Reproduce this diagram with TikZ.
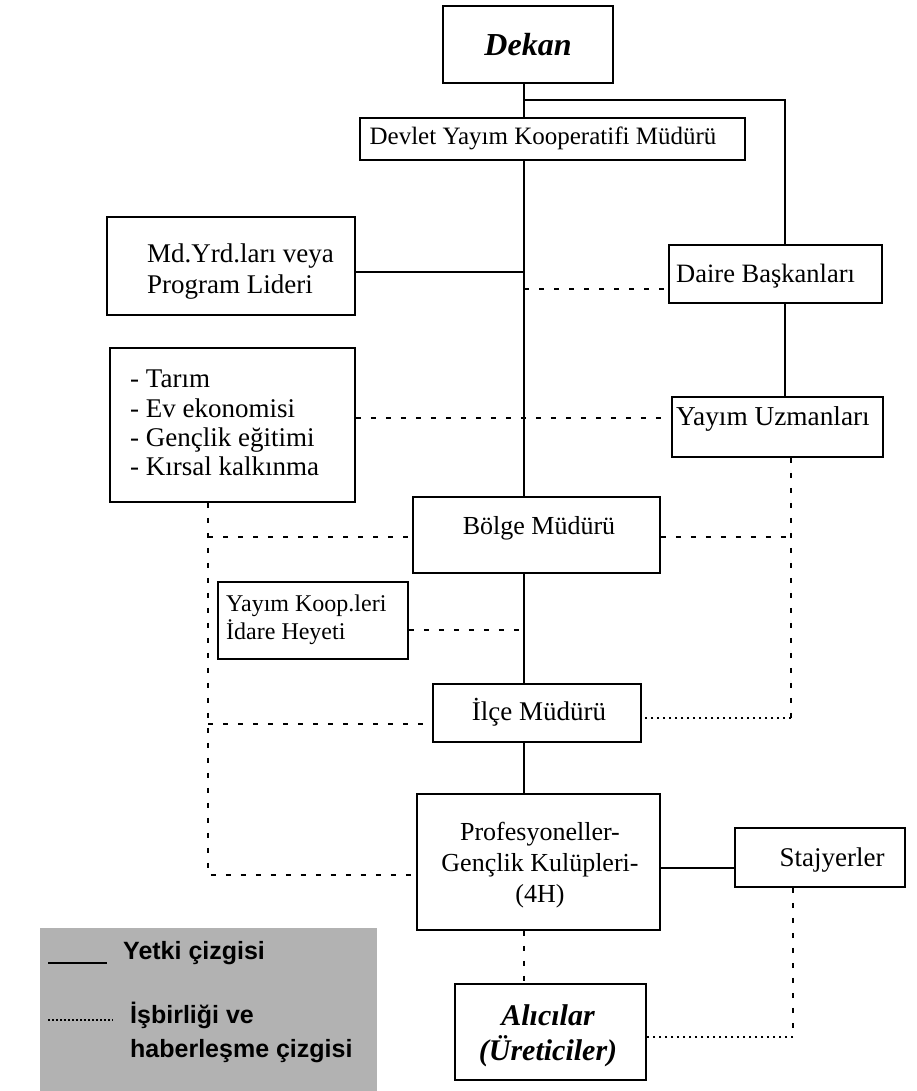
\documentclass[tikz,border=0pt]{standalone}
\usepackage{fontspec}
\setmainfont{Liberation Serif}
\newfontfamily\legendfont{Liberation Sans}
\usetikzlibrary{fit}
\definecolor{legendgray}{RGB}{178,178,178}
\begin{document}
\begin{tikzpicture}[x=1pt,y=-1pt,
  box/.style={draw,line width=1.5pt,inner sep=0pt},
  txt/.style={inner sep=0pt,font=\fontsize{26}{30}\selectfont},
  auth/.style={line width=1.8pt},
  coop/.style={line width=1.6pt,dash pattern=on 5pt off 10pt},
  finecoop/.style={line width=1.2pt,dash pattern=on 2pt off 4pt},
  legtxt/.style={inner sep=0pt,font=\legendfont\bfseries\fontsize{25}{34}\selectfont}]
\useasboundingbox (0,0) rectangle (916,1091);

% legend panel
\fill[legendgray] (40,928) rectangle (377,1091);

% boxes
\node[box,fit={(443,6)(613,83)}]    (dekan)  {};
\node[box,fit={(360,118)(745,160)}] (devlet) {};
\node[box,fit={(107,217)(355,315)}] (mdyrd)  {};
\node[box,fit={(669,245)(882,303)}] (daire)  {};
\node[box,fit={(110,348)(355,502)}] (tarim)  {};
\node[box,fit={(672,397)(883,457)}] (yayimu) {};
\node[box,fit={(413,497)(660,573)}] (bolge)  {};
\node[box,fit={(218,582)(408,659)}] (koop)   {};
\node[box,fit={(433,684)(641,742)}] (ilce)   {};
\node[box,fit={(417,794)(660,930)}] (prof)   {};
\node[box,fit={(735,828)(905,887)}] (staj)   {};
\node[box,fit={(455,984)(646,1080)}] (alici) {};

% box texts
\node[txt,font=\bfseries\itshape\fontsize{32}{36}\selectfont] (dekan-t) at (528,45) {Dekan};
\node[txt,font=\fontsize{25}{30}\selectfont] (devlet-t) at (543,138) {Devlet Yayım Kooperatifi Müdürü};
\node[txt,anchor=west,align=left,font=\fontsize{27}{31}\selectfont] (mdyrd-t) at (147,272) {Md.Yrd.ları veya\\Program Lideri};
\node[txt,anchor=west,font=\fontsize{26.5}{31}\selectfont] (daire-t) at (676,276) {Daire Başkanları};
\node[txt,anchor=west,align=left,font=\fontsize{27}{29.3}\selectfont] (tarim-t) at (130,423) {- Tarım\\- Ev ekonomisi\\- Gençlik eğitimi\\- Kırsal kalkınma};
\node[txt,anchor=west,font=\fontsize{27.3}{31}\selectfont] (yayimu-t) at (676,419) {Yayım Uzmanları};
\node[txt] (bolge-t) at (539,528) {Bölge Müdürü};
\node[txt,anchor=west,align=left,font=\fontsize{24}{28}\selectfont] (koop-t) at (226,620) {Yayım Koop.leri\\İdare Heyeti};
\node[txt,font=\fontsize{27}{31}\selectfont] (ilce-t) at (539,712) {İlçe Müdürü};
\node[txt,align=center,font=\fontsize{26}{31}\selectfont] (prof-t) at (540,865) {Profesyoneller-\\Gençlik Kulüpleri-\\(4H)};
\node[txt,font=\fontsize{27}{31}\selectfont] (staj-t) at (832,860) {Stajyerler};
\node[txt,align=center,font=\bfseries\itshape\fontsize{30}{35}\selectfont] (alici-t) at (548,1036) {Alıcılar\\(Üreticiler)};

% connector guides
\coordinate (spine) at (524,0);
\coordinate (rspine) at (785,0);
\coordinate (lbus) at (208,0);
\coordinate (rbus) at (791,0);
\coordinate (sbus) at (793,0);
\coordinate (split) at (524,100);
\coordinate (ymd) at (0,272);
\coordinate (ydai) at (0,289);
\coordinate (ytar) at (0,418);
\coordinate (ybol) at (0,537);
\coordinate (ykoop) at (0,630);
\coordinate (yil) at (0,724);
\coordinate (yir) at (0,718);
\coordinate (ypro) at (0,875);
\coordinate (ystaj) at (0,868);
\coordinate (yali) at (0,1037);

% line of authority
\draw[auth] (dekan.south -| spine) -- (devlet.north -| spine);
\draw[auth] (split) -| (daire.north -| rspine);
\draw[auth] (devlet.south -| spine) -- (bolge.north -| spine);
\draw[auth] (mdyrd.east |- ymd) -- (spine |- ymd);
\draw[auth] (daire.south -| rspine) -- (yayimu.north -| rspine);
\draw[auth] (bolge.south -| spine) -- (ilce.north -| spine);
\draw[auth] (ilce.south -| spine) -- (prof.north -| spine);
\draw[auth] (prof.east |- ystaj) -- (staj.west |- ystaj);

% cooperation and communication lines
\draw[coop] (spine |- ydai) -- (daire.west |- ydai);
\draw[coop] (tarim.east |- ytar) -- (yayimu.west |- ytar);
\draw[coop] (tarim.south -| lbus) -- (lbus |- ypro) -- (prof.west |- ypro);
\draw[coop] (lbus |- ybol) -- (bolge.west |- ybol);
\draw[coop] (lbus |- yil) -- (ilce.west |- yil);
\draw[coop] (bolge.east |- ybol) -- (rbus |- ybol);
\draw[coop] (yayimu.south -| rbus) -- (rbus |- yir);
\draw[finecoop] (rbus |- yir) -- (ilce.east |- yir);
\draw[coop] (koop.east |- ykoop) -- (spine |- ykoop);
\draw[coop] (prof.south -| spine) -- (alici.north -| spine);
\draw[coop] (staj.south -| sbus) -- (sbus |- yali);
\draw[finecoop] (sbus |- yali) -- (alici.east |- yali);

% legend
\coordinate (leg1a) at (48,963);
\coordinate (leg1b) at (107,963);
\coordinate (leg2a) at (48,1020);
\coordinate (leg2b) at (113,1020);
\draw[line width=1.2pt] (leg1a) -- (leg1b);
\draw[line width=1.2pt,dash pattern=on 2pt off 2pt] (leg2a) -- (leg2b);
\node[legtxt,anchor=west] (leg1-t) at (123,953) {Yetki çizgisi};
\node[legtxt,anchor=west,align=left] (leg2-t) at (130,1032) {İşbirliği ve\\haberleşme çizgisi};
\end{tikzpicture}
\end{document}
